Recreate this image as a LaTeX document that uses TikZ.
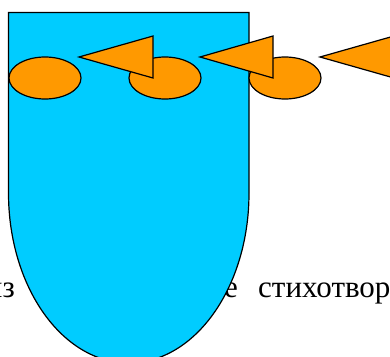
\documentclass[tikz,border=0pt]{standalone}
\usepackage{fontspec}
\setmainfont{Liberation Serif}
\usepackage{tikz}
\usetikzlibrary{shapes.geometric}
\definecolor{SkyFill}{HTML}{00CCFF}
\definecolor{Amber}{HTML}{FF9900}

\begin{document}
\begin{tikzpicture}[x=1pt,y=-1pt,font=\fontsize{31}{33}\selectfont,
        cup/.style={draw=black,fill=SkyFill,line width=1.2pt},
        bead/.style={ellipse,draw=black,fill=Amber,line width=1.2pt,
                     inner sep=0pt,minimum width=72pt,minimum height=42pt},
        wedge/.style={draw=black,fill=Amber,line width=1.2pt,line join=miter}]
      \clip (0,0) rectangle (390,356);
      % words lying behind the shape
      \node[anchor=base east,inner sep=0pt] (w1) at (15,297) {из};
      \node[anchor=base west,inner sep=0pt] (w2) at (224,297) {е};
      \node[anchor=base west,inner sep=0pt] (w3) at (258,297) {стихотвор};
      \draw[cup] (8.5,12.5) -- (249,12.5) -- (249,193)
        arc[start angle=0,end angle=180,x radius=120.25,y radius=170] -- cycle;
      \node[bead] (b1) at (45,78) {};
      \node[bead] (b2) at (165,78) {};
      \node[bead] (b3) at (285,78) {};
      \draw[wedge] (79,57) -- (153,36) -- (153,78) -- cycle;
      \draw[wedge] (200,57) -- (273,36) -- (273,78) -- cycle;
      \draw[wedge] (320,57) -- (394,36) -- (394,78) -- cycle;
    \end{tikzpicture}
\end{document}
